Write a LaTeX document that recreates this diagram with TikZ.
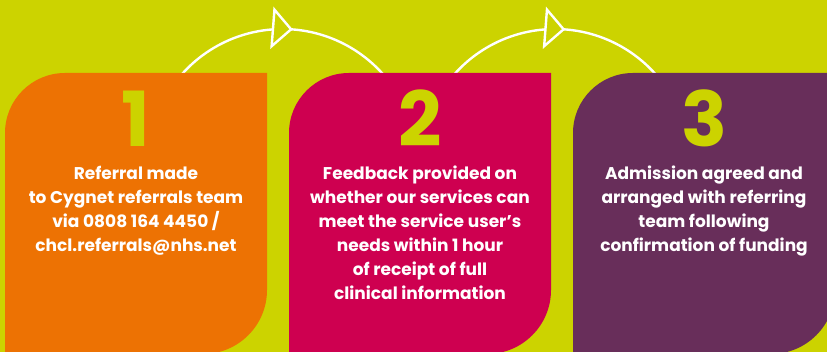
\documentclass[tikz,border=0pt]{standalone}
\usepackage{fontspec}
\setmainfont{Poppins}
\usetikzlibrary{arrows.meta, decorations.markings}
\definecolor{cglime}{HTML}{CCD300}
\definecolor{cgorange}{HTML}{ED7203}
\definecolor{cgred}{HTML}{CE0050}
\definecolor{cgplum}{HTML}{682E5A}

\begin{document}
\begin{tikzpicture}[x=1pt, y=1pt,
    stepnum/.style={text=cglime, font=\fontsize{76}{76}\selectfont\bfseries, anchor=base, inner sep=0pt},
    steptext/.style={text=white, font=\fontsize{17}{24}\selectfont\bfseries, align=center, anchor=north, inner sep=0pt},
    flow/.style={draw=white, line width=2.4pt, postaction={decorate},
      decoration={markings, mark=at position 0.54 with {\arrow{Triangle[fill=cglime, length=21pt, width=42pt]}}}}]
  % background
  \fill[cglime] (0,0) rectangle (827,352);
  \useasboundingbox (0,0) rectangle (827,352);
  \clip (0,0) rectangle (827,352);

  % arcs from one step to the next
  \coordinate (fromA) at (172.3,265.6);
  \coordinate (fromB) at (444.8,265.6);
  \draw[flow] (fromA) arc[start angle=145, end angle=35, radius=134.5];
  \draw[flow] (fromB) arc[start angle=145, end angle=35, radius=134.5];

  % the three step boxes
  \foreach \x/\col/\n in {5/cgorange/1, 289/cgred/2, 573/cgplum/3}{
    \fill[\col] (\x,-2) -- (\x,219) arc[start angle=180, end angle=90, radius=60]
      -- (\x+262,279) -- (\x+262,62) arc[start angle=0, end angle=-90, radius=64] -- cycle;
    \node[stepnum] (num\n) at (\x+131,205) {\n};
  }

  \node[steptext] (textA) at (136,186.5) {Referral made\\to Cygnet referrals team\\via 0808 164 4450 /\\chcl.referrals@nhs.net};
  \node[steptext] (textB) at (420,186.5) {Feedback provided on\\whether our services can\\meet the service user’s\\needs within 1 hour\\of receipt of full\\clinical information};
  \node[steptext] (textC) at (704,186.5) {Admission agreed and\\arranged with referring\\team following\\confirmation of funding};
\end{tikzpicture}
\end{document}
